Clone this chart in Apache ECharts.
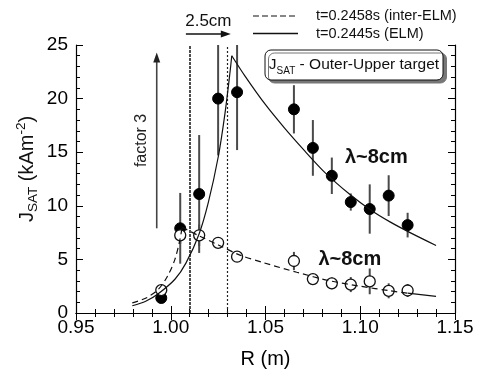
<!DOCTYPE html>
<html><head><meta charset="utf-8">
<script src="https://cdn.jsdelivr.net/npm/echarts@6/dist/echarts.min.js"></script>
<style>html,body{margin:0;padding:0;background:#fff}#c{width:478px;height:374px}</style>
</head><body><div id="c"></div>
<script>
// ---- data ----
const xTickMin = 0.95, xTickMax = 1.15, xTickStep = 0.05;
const yTickMin = 0, yTickMax = 25, yTickStep = 5;
const R = [0.995, 1.005, 1.015, 1.025, 1.035, 1.065, 1.075, 1.085, 1.095, 1.105, 1.115, 1.125];
const elmJ = [1.4, 7.9, 11.1, 20.0, 20.6, 19.0, 15.4, 12.8, 10.35, 9.7, 10.95, 8.2];
const elmErr = [0, 3.3, 5.5, 5.3, 5.4, 2.25, 2.6, 1.7, 0.8, 2.3, 1.9, 1.15];
const interJ = [2.14, 7.25, 7.25, 6.55, 5.25, 4.85, 3.16, 2.77, 2.65, 2.95, 2.07, 2.1];
const interErr = [0.3, 0.8, 1.0, 0.5, 0.3, 0.85, 0.3, 0.55, 0.7, 1.2, 0.7, 0.6];
const elmFitRise = [[0.9797,0.68],[0.9868,1.1],[0.9934,1.8],[1.0022,3.15],[1.0080,4.65],[1.0149,7.35],[1.0198,10.3],[1.0251,14.6],[1.0286,18.6],[1.0313,22.5],[1.0322,24.0]];
const elmFitDecay = [[1.0322,24.0],[1.0392,22.1],[1.0497,19.5],[1.0603,17.2],[1.0708,15.1],[1.0814,13.1],[1.0946,11.05],[1.1051,9.66],[1.1157,8.5],[1.1263,7.5],[1.1400,6.3]];
const interFitRise = [[0.9797,0.95],[0.9870,1.4],[0.9934,2.2],[0.9982,3.4],[1.0022,5.0],[1.0049,6.9],[1.0060,8.0]];
const interFitDecay = [[1.0060,8.0],[1.0149,7.2],[1.0251,6.35],[1.0365,5.4],[1.0488,4.7],[1.0665,3.8],[1.0840,3.0],[1.1000,2.5],[1.1157,2.07],[1.1250,1.85]];
const interFitTail = [[1.1250,1.85],[1.1400,1.55]];
const markersR = [1.008, 1.0325];
const factorArrow = [[0.9926, 7.9], [0.9926, 24.3]];
const lambdaLabels = [[1.1085, 14.5], [1.0945, 5.0]];

const FONT = '"Liberation Sans", Arial, Helvetica, sans-serif';
const chart = echarts.init(document.getElementById('c'), null, {renderer: 'canvas'});

function errSeries(xs, ys, es, z) {
  return {
    type: 'custom', z: z, silent: true,
    data: xs.map((x, i) => [x, ys[i] - es[i], ys[i] + es[i]]),
    encode: {x: 0, y: [1, 2]},
    renderItem: function (params, api) {
      const cs = params.coordSys;
      const p1 = api.coord([api.value(0), api.value(1)]);
      const p2 = api.coord([api.value(0), api.value(2)]);
      const clamp = v => Math.max(cs.y, Math.min(cs.y + cs.height, v));
      return {type: 'line', shape: {x1: p1[0], y1: clamp(p1[1]), x2: p2[0], y2: clamp(p2[1])},
        style: {stroke: '#4a4a4a', lineWidth: 2}};
    }
  };
}
function fitLine(data, dashed) {
  return {type: 'line', data: data, showSymbol: false, symbol: 'none', smooth: 0.3, z: 5,
    lineStyle: {color: '#111', width: 1.2, type: dashed ? [6, 4] : 'solid'}, silent: true};
}
const axisCommon = {
  axisLine: {show: true, lineStyle: {color: '#000', width: 1.2}},
  axisTick: {show: true, inside: true, length: 7, lineStyle: {color: '#000', width: 1}},
  minorTick: {show: true, splitNumber: 5, length: 4, lineStyle: {color: '#000', width: 1}},
  splitLine: {show: false}, minorSplitLine: {show: false}
};
chart.setOption({
  animation: false,
  backgroundColor: '#fff',
  grid: {left: 76, right: 23, top: 45, bottom: 60, containLabel: false},
  xAxis: [
    Object.assign({type: 'value', min: xTickMin, max: xTickMax, interval: xTickStep, position: 'bottom',
      axisLabel: {formatter: v => v.toFixed(2), fontSize: 19, color: '#000', fontFamily: FONT, margin: 5},
      name: 'R (m)', nameLocation: 'middle', nameGap: 36,
      nameTextStyle: {fontSize: 20, color: '#000', fontFamily: FONT}}, axisCommon),
    Object.assign({type: 'value', min: xTickMin, max: xTickMax, interval: xTickStep, position: 'top',
      axisLabel: {show: false}}, axisCommon)
  ],
  yAxis: [
    Object.assign({type: 'value', min: yTickMin, max: yTickMax, interval: yTickStep, position: 'left',
      axisLabel: {fontSize: 19, color: '#000', fontFamily: FONT, margin: 8}}, axisCommon),
    Object.assign({type: 'value', min: yTickMin, max: yTickMax, interval: yTickStep, position: 'right',
      axisLabel: {show: false}}, axisCommon)
  ],
  series: [
    {type: 'line', data: [], z: 1, silent: true,
      markLine: {silent: true, symbol: 'none', label: {show: false},
        data: [
          {xAxis: markersR[0], lineStyle: {color: '#222', width: 1.6, type: [3, 1]}},
          {xAxis: markersR[1], lineStyle: {color: '#222', width: 1.2, type: [2, 2]}}
        ]}},
    errSeries(R, elmJ, elmErr, 2),
    errSeries(R, interJ, interErr, 2),
    {type: 'scatter', data: R.map((x, i) => [x, elmJ[i]]), symbol: 'circle', symbolSize: 11, z: 3,
      itemStyle: {color: '#000', borderColor: '#000', borderWidth: 1, opacity: 1}},
    {type: 'scatter', data: R.map((x, i) => [x, interJ[i]]), symbol: 'circle', symbolSize: 11, z: 3,
      itemStyle: {color: '#fff', borderColor: '#111', borderWidth: 1.3, opacity: 1}},
    fitLine(elmFitRise, false),
    fitLine(elmFitDecay, false),
    fitLine(interFitRise, true),
    fitLine(interFitDecay, true),
    fitLine(interFitTail, false)
  ]
});

const px = p => chart.convertToPixel({xAxisIndex: 0, yAxisIndex: 0}, p);
const fa0 = px(factorArrow[0]), fa1 = px(factorArrow[1]);
const cmA = px([markersR[0], 0]), cmB = px([markersR[1] - 0.0008, 0]);
const l1 = px(lambdaLabels[0]), l2 = px(lambdaLabels[1]);
const arrowY = 34;
const graphics = [
  {type: 'line', shape: {x1: fa0[0], y1: fa0[1], x2: fa1[0], y2: fa1[1] + 8}, style: {stroke: '#444', lineWidth: 1.6}},
  {type: 'polygon', shape: {points: [[fa1[0], fa1[1]], [fa1[0] - 3.5, fa1[1] + 10], [fa1[0] + 3.5, fa1[1] + 10]]}, style: {fill: '#222'}},
  {type: 'text', x: fa0[0] - 15, y: (fa0[1] + fa1[1]) / 2, rotation: Math.PI / 2,
    style: {text: 'factor 3', font: '16px ' + FONT, fill: '#222', align: 'center', verticalAlign: 'middle'}},
  {type: 'line', shape: {x1: cmA[0], y1: arrowY, x2: cmB[0] - 8, y2: arrowY}, style: {stroke: '#111', lineWidth: 1.3}},
  {type: 'polygon', shape: {points: [[cmB[0], arrowY], [cmB[0] - 10, arrowY - 3.5], [cmB[0] - 10, arrowY + 3.5]]}, style: {fill: '#111'}},
  {type: 'text', x: (cmA[0] + cmB[0]) / 2, y: 21, style: {text: '2.5cm', font: '17px ' + FONT, fill: '#111', align: 'center', verticalAlign: 'middle'}},
  {type: 'line', shape: {x1: 253, y1: 16, x2: 298, y2: 16}, style: {stroke: '#111', lineWidth: 1.2, lineDash: [6, 3]}},
  {type: 'text', x: 316, y: 16, style: {text: 't=0.2458s (inter-ELM)', font: '14.5px ' + FONT, fill: '#111', align: 'left', verticalAlign: 'middle'}},
  {type: 'line', shape: {x1: 253, y1: 33.5, x2: 298, y2: 33.5}, style: {stroke: '#111', lineWidth: 1.3}},
  {type: 'text', x: 316, y: 33.5, style: {text: 't=0.2445s (ELM)', font: '14.5px ' + FONT, fill: '#111', align: 'left', verticalAlign: 'middle'}},
  {type: 'rect', shape: {x: 265, y: 50, width: 178, height: 30, r: 6}, z: 10,
    style: {fill: '#fff', stroke: '#111', lineWidth: 1, shadowColor: '#777', shadowOffsetX: 3.5, shadowOffsetY: 3, shadowBlur: 0}},
  {type: 'text', x: 354, y: 65, z: 11,
    style: {text: '{a|J}{s|SAT}{a| - Outer-Upper target}', align: 'center', verticalAlign: 'middle',
      rich: {a: {fontSize: 15.5, fontFamily: FONT, fill: '#111', lineHeight: 22},
             s: {fontSize: 10, fontFamily: FONT, fill: '#111', lineHeight: 10, verticalAlign: 'bottom'}}}},
  {type: 'text', x: l1[0], y: l1[1], style: {text: 'λ~8cm', font: 'bold 20px ' + FONT, fill: '#111', align: 'center', verticalAlign: 'middle'}},
  {type: 'text', x: l2[0], y: l2[1], style: {text: 'λ~8cm', font: 'bold 20px ' + FONT, fill: '#111', align: 'center', verticalAlign: 'middle'}},
  {type: 'text', x: 27, y: 169, rotation: Math.PI / 2,
    style: {text: '{a|J}{s|SAT}{a| (kAm}{p|-2}{a|)}', align: 'center', verticalAlign: 'middle',
      rich: {a: {fontSize: 20, fontFamily: FONT, fill: '#111', lineHeight: 26},
             s: {fontSize: 13.5, fontFamily: FONT, fill: '#111', lineHeight: 13, verticalAlign: 'bottom'},
             p: {fontSize: 13.5, fontFamily: FONT, fill: '#111', lineHeight: 13, verticalAlign: 'top'}}}}
];
chart.setOption({graphic: graphics});
</script>
</body></html>
